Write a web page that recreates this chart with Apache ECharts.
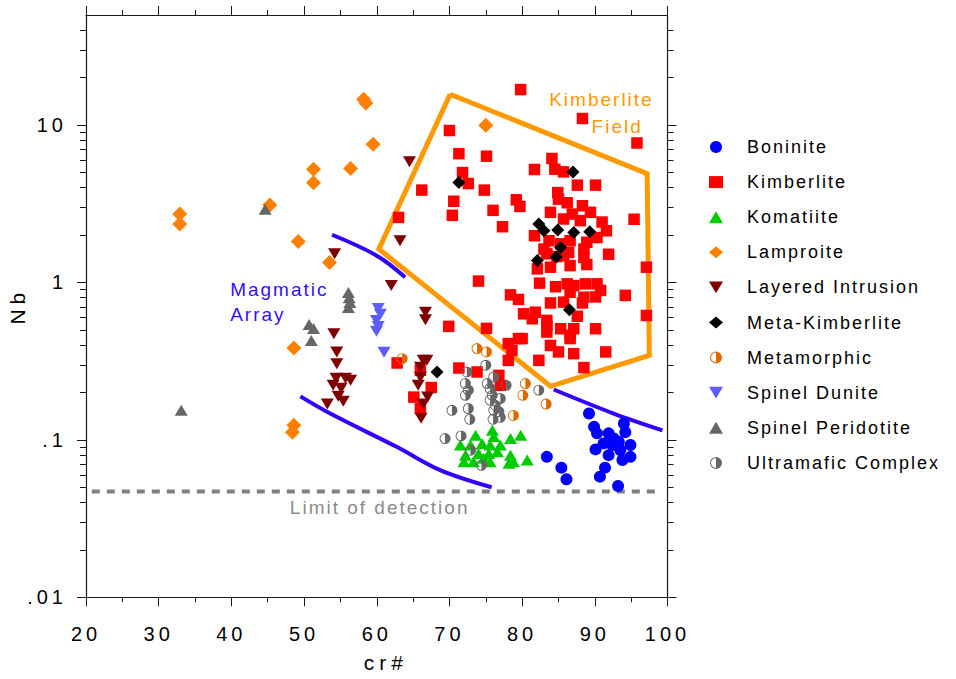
<!DOCTYPE html>
<html>
<head>
<meta charset="utf-8">
<script src="https://cdn.jsdelivr.net/npm/echarts@6.0.0/dist/echarts.min.js"></script>
<style>
  html, body { margin: 0; padding: 0; background: #ffffff; }
  #chart { width: 956px; height: 679px; letter-spacing: 2px; }
  /* wider tracking for tick labels (20px) and axis titles (21px) */
  #chart text[style*="20px"] { letter-spacing: 4px; }
  #chart text[style*="21px"] { letter-spacing: 5px; }
</style>
</head>
<body>
<div id="chart"></div>
<script>
// ---- data: [cr#, Nb] ----
const boninite = [
  [89.2, 0.147], [89.9, 0.121], [90.3, 0.110], [91.9, 0.110], [92.6, 0.102], [91.2, 0.095],
  [92.4, 0.0927], [93.3, 0.0973], [94.0, 0.127], [94.2, 0.112], [94.9, 0.0927], [90.1, 0.087],
  [91.9, 0.080], [93.5, 0.0861], [94.9, 0.078], [93.8, 0.0745], [83.4, 0.078], [85.4, 0.0666],
  [86.1, 0.0562], [91.4, 0.0666], [90.7, 0.0584], [93.2, 0.0509]
];
const kimberlite = [
  [79.8, 16.8], [88.3, 11.0], [95.8, 7.69], [70.0, 9.23], [71.3, 6.58], [75.1, 6.34], [84.1, 6.13],
  [81.7, 5.22], [84.5, 5.24], [85.7, 5.04], [71.8, 4.99], [72.6, 4.25], [87.6, 4.15], [90.1, 4.15],
  [66.2, 3.86], [74.8, 3.86], [84.9, 3.72], [70.6, 3.28], [79.2, 3.35], [79.7, 3.04], [86.2, 3.21],
  [88.3, 3.07], [76.0, 2.87], [70.4, 2.67], [63.0, 2.59], [83.9, 2.79], [89.4, 2.79], [95.4, 2.52],
  [91.0, 2.42], [77.3, 2.26], [81.7, 1.98], [91.6, 2.13], [83.0, 1.63], [86.6, 1.84], [88.5, 1.63],
  [91.9, 1.51], [85.7, 1.48], [97.1, 1.25], [82.1, 1.22], [83.9, 1.25], [86.6, 1.28], [88.9, 1.30],
  [74.0, 1.02], [78.4, 0.834], [79.5, 0.78], [82.4, 0.99], [84.6, 0.94], [87.1, 0.955], [90.8, 0.89],
  [94.2, 0.828], [83.9, 0.741], [85.7, 0.75], [88.3, 0.741], [90.1, 0.809], [80.2, 0.632],
  [81.4, 0.588], [83.4, 0.574], [87.6, 0.61], [97.1, 0.617], [69.9, 0.526], [75.1, 0.511],
  [90.1, 0.508], [86.9, 2.72], [85.7, 2.53], [88.0, 2.47], [83.7, 1.84], [90.3, 1.93], [88.9, 1.80],
  [86.4, 1.55], [85.3, 1.76], [83.4, 1.52], [85.0, 3.38], [84.8, 1.46], [88.5, 1.44], [86.2, 0.98],
  [88.7, 0.98], [90.3, 0.98], [86.6, 0.867], [88.5, 0.806], [81.8, 0.647], [85.3, 0.508],
  [87.1, 0.508], [83.4, 0.533], [83.4, 0.484], [86.6, 0.44], [83.9, 0.398], [85.0, 0.362],
  [87.1, 0.353], [91.5, 0.362], [82.3, 0.32], [88.5, 0.288], [80.0, 0.44], [78.1, 0.409],
  [78.1, 0.32], [86.6, 0.461], [62.8, 0.308], [66.0, 0.277], [71.3, 0.286], [73.8, 0.27],
  [67.5, 0.215], [65.1, 0.187], [66.0, 0.158], [76.8, 0.257], [77.0, 0.222], [78.6, 0.37],
  [79.5, 0.44]
];
const komatiite = [
  [73.6, 0.107], [75.9, 0.115], [76.1, 0.105], [78.4, 0.102], [79.8, 0.107], [71.5, 0.0927],
  [72.9, 0.0927], [74.5, 0.095], [75.6, 0.0927], [77.0, 0.0927], [72.2, 0.080], [74.0, 0.082],
  [75.4, 0.082], [76.6, 0.084], [72.0, 0.0727], [73.3, 0.0727], [75.6, 0.0727], [78.4, 0.080],
  [78.8, 0.0727], [80.7, 0.0745], [78.2, 0.071], [74.7, 0.0763]
];
const lamproite = [
  [32.9, 2.72], [32.9, 2.35], [45.3, 3.10], [51.3, 5.24], [51.3, 4.30], [49.2, 1.82], [53.5, 1.34],
  [58.2, 14.6], [58.5, 13.8], [59.5, 7.55], [56.4, 5.29], [75.0, 9.96], [48.6, 0.383],
  [48.6, 0.124], [48.4, 0.112]
];
const layeredIntrusion = [
  [64.5, 5.84], [63.2, 1.84], [54.2, 1.52], [62.0, 0.955], [66.7, 0.647], [66.7, 0.579],
  [54.1, 0.473], [54.5, 0.361], [54.5, 0.305], [54.4, 0.246], [55.7, 0.246], [56.4, 0.239],
  [54.0, 0.222], [55.1, 0.213], [54.7, 0.189], [55.4, 0.176], [53.2, 0.169], [66.4, 0.32],
  [66.9, 0.32], [66.0, 0.289], [66.0, 0.250], [65.7, 0.222], [67.0, 0.187], [66.4, 0.169],
  [66.1, 0.137]
];
const metaKimberlite = [
  [87.0, 5.04], [71.3, 4.32], [82.3, 2.35], [83.0, 2.13], [84.9, 2.15], [87.1, 2.08], [89.3, 2.10],
  [85.3, 1.67], [84.7, 1.45], [82.1, 1.38], [86.5, 0.67], [68.3, 0.270]
];
const metamorphic = [
  [73.8, 0.380], [75.1, 0.362], [80.45, 0.228], [80.1, 0.192], [83.3, 0.169], [78.8, 0.143],
  [63.5, 0.328]
];
const spinelDunite = [
  [60.2, 0.684], [60.5, 0.627], [59.96, 0.574], [60.2, 0.526], [59.96, 0.489], [61.0, 0.360]
];
const spinelPeridotite = [
  [33.1, 0.154], [44.65, 2.92], [56.1, 0.863], [56.2, 0.80], [56.3, 0.746], [56.1, 0.694],
  [50.7, 0.541], [51.3, 0.51], [51.0, 0.428]
];
const ultramaficComplex = [
  [75.0, 0.298], [72.4, 0.270], [76.1, 0.251], [77.8, 0.222], [72.2, 0.228], [72.6, 0.207],
  [72.2, 0.192], [75.2, 0.228], [75.6, 0.212], [75.9, 0.192], [77.0, 0.183], [75.6, 0.179],
  [76.3, 0.166], [72.6, 0.158], [70.35, 0.154], [76.1, 0.154], [76.8, 0.151], [72.8, 0.135],
  [76.0, 0.135], [77.0, 0.139], [69.4, 0.102], [71.6, 0.106], [72.9, 0.086], [74.4, 0.069],
  [82.3, 0.207]
];

// field outlines and reference lines
const kimberliteField = [[70.1, 15.7], [97.2, 4.9], [97.5, 0.344], [83.9, 0.219], [60.3, 1.63], [70.1, 15.7]];
const magmaticUpperLeft = [[53.85, 2.01], [60.0, 1.48], [63.9, 1.08]];
const magmaticUpperRight = [[84.35, 0.209], [92.6, 0.147], [99.3, 0.115]];
const magmaticLower = [[49.5, 0.189], [53.6, 0.147], [62.8, 0.090], [68.8, 0.064], [75.8, 0.050]];
const detectionLimit = [[20.8, 0.047], [99.2, 0.047]];

// axis ticks
const xMin = 20, xMax = 100, xStep = 10;
const yMin = 0.01, yMax = 50;
const yTickValues = [0.01, 0.1, 1, 10];
const yTickLabels = ['.01', '.1', '1', '10'];
const yMinorValues = [0.02, 0.03, 0.04, 0.05, 0.06, 0.07, 0.08, 0.09,
  0.2, 0.3, 0.4, 0.5, 0.6, 0.7, 0.8, 0.9, 2, 3, 4, 5, 6, 7, 8, 9, 20, 30, 40];

// text annotations: [label, cr#, Nb, side, colour]
const annotations = [
  ['Magmatic', 39.83, 0.90, 'right', '#3311ff'],
  ['Array', 39.83, 0.627, 'right', '#3311ff'],
  ['Kimberlite', 98.1, 14.6, 'left', '#ff9900'],
  ['Field', 96.6, 9.85, 'left', '#ff9900'],
  ['Limit of detection', 60.4, 0.037, 'inside', '#8a8a8a']
];

const FONT = 'Liberation Sans, Arial, Helvetica, sans-serif';
const AXIS_COLOR = '#1a1a1a';
const GRID = { left: 86, top: 15, right: 288.5, bottom: 81.7 };
const PLOT_WIDTH = 956 - GRID.left - GRID.right;
const DOWN_TRI = 'path://M0,0L12,0L6,10Z';
const HALF_DOT = 'path://M10,0A10,10,0,0,1,10,20A10,10,0,0,1,10,0Z' +
  'M10,1.7A8.3,8.3,0,0,0,10,18.3A8.3,8.3,0,0,0,10,1.7Z' +
  'M10,0A10,10,0,0,1,10,20Z';

function yLabel(v) {
  for (let i = 0; i < yTickValues.length; i++) {
    if (Math.abs(Math.log10(v) - Math.log10(yTickValues[i])) < 1e-6) return yTickLabels[i];
  }
  return '';
}

function pointSeries(name, data, symbol, size, color) {
  return {
    name, type: 'scatter', data, symbol, symbolSize: size,
    xAxisIndex: 0, yAxisIndex: 0, z: 5,
    itemStyle: { color, opacity: 1 },
    emphasis: { disabled: true }
  };
}

function lineSeries(data, color, width, extra) {
  return Object.assign({
    type: 'line', data, xAxisIndex: 0, yAxisIndex: 0, showSymbol: false, symbol: 'none',
    silent: true, z: 2,
    lineStyle: { color, width, cap: 'butt' },
    emphasis: { disabled: true }
  }, extra || {});
}

// empty series that bind the frame axes to the grid
function frameSeries(xi, yi) {
  return { type: 'scatter', data: [], xAxisIndex: xi, yAxisIndex: yi, silent: true };
}

const legendNames = ['Boninite', 'Kimberlite', 'Komatiite', 'Lamproite', 'Layered Intrusion',
  'Meta-Kimberlite', 'Metamorphic', 'Spinel Dunite', 'Spinel Peridotite', 'Ultramafic Complex'];

const chart = echarts.init(document.getElementById('chart'), null, { renderer: 'svg' });

const hiddenAxisBits = { axisLabel: { show: false }, splitLine: { show: false } };
const tickStyle = { lineStyle: { color: AXIS_COLOR } };

chart.setOption({
  animation: false,
  backgroundColor: '#ffffff',
  textStyle: { fontFamily: FONT },
  grid: Object.assign({ outerBoundsMode: 'none' }, GRID),
  legend: {
    orient: 'vertical', left: 704, top: 133, itemWidth: 14, itemHeight: 12, itemGap: 17.1,
    selectedMode: false,
    data: legendNames,
    textStyle: { fontSize: 18, color: '#000', fontFamily: FONT, padding: [0, 0, 0, 19] }
  },
  xAxis: [
    {
      type: 'value', position: 'bottom', min: xMin, max: xMax, interval: xStep,
      name: 'cr#', nameLocation: 'middle', nameGap: 55,
      nameTextStyle: { fontSize: 21, color: '#000', fontFamily: FONT, padding: [0, 0, 0, 18] },
      axisLine: { show: true, onZero: false, lineStyle: { color: AXIS_COLOR, width: 1.2 } },
      axisTick: Object.assign({ show: true, inside: false, length: 9 }, tickStyle),
      minorTick: Object.assign({ show: true, splitNumber: 2, length: 5 }, tickStyle),
      axisLabel: { fontSize: 20, color: '#000', margin: 27, fontFamily: FONT },
      splitLine: { show: false }
    },
    Object.assign({
      type: 'value', position: 'top', min: xMin, max: xMax, interval: xStep,
      axisLine: { show: true, onZero: false, lineStyle: { color: AXIS_COLOR, width: 1.2 } },
      axisTick: Object.assign({ show: true, inside: false, length: 9 }, tickStyle),
      minorTick: Object.assign({ show: true, splitNumber: 2, length: 5 }, tickStyle)
    }, hiddenAxisBits)
  ],
  yAxis: [
    {
      type: 'log', logBase: 10, position: 'left', min: yMin, max: yMax,
      name: 'Nb', nameLocation: 'middle', nameGap: 58,
      nameTextStyle: { fontSize: 21, color: '#000', fontFamily: FONT },
      axisLine: { show: true, onZero: false, lineStyle: { color: AXIS_COLOR, width: 1.2 } },
      axisTick: Object.assign({ show: true, inside: false, length: 6,
        customValues: yTickValues.concat(yMinorValues) }, tickStyle),
      axisLabel: { fontSize: 20, color: '#000', margin: 19, fontFamily: FONT, customValues: yTickValues, formatter: yLabel },
      splitLine: { show: false }
    },
    // long decade ticks on the left edge: a right-side axis shifted across the plot, ticks turned inward
    Object.assign({
      type: 'log', logBase: 10, position: 'right', offset: -PLOT_WIDTH, min: yMin, max: yMax,
      axisLine: { show: false, onZero: false },
      axisTick: Object.assign({ show: true, inside: true, length: 9, customValues: yTickValues }, tickStyle)
    }, hiddenAxisBits),
    Object.assign({
      type: 'log', logBase: 10, position: 'right', min: yMin, max: yMax,
      axisLine: { show: true, onZero: false, lineStyle: { color: AXIS_COLOR, width: 1.2 } },
      axisTick: Object.assign({ show: true, inside: false, length: 9, customValues: yTickValues }, tickStyle)
    }, hiddenAxisBits),
    Object.assign({
      type: 'log', logBase: 10, position: 'right', min: yMin, max: yMax,
      axisLine: { show: false, onZero: false },
      axisTick: Object.assign({ show: true, inside: false, length: 6, customValues: yMinorValues }, tickStyle)
    }, hiddenAxisBits)
  ],
  series: [
    lineSeries(detectionLimit, '#808080', 4, { lineStyle: { color: '#808080', width: 4, type: [8, 7], cap: 'butt' } }),
    lineSeries(magmaticLower, '#3300ff', 4, { smooth: 0.35 }),
    lineSeries(magmaticUpperLeft, '#3300ff', 4, { smooth: 0.35 }),
    lineSeries(magmaticUpperRight, '#3300ff', 4, { smooth: 0.35 }),
    lineSeries(kimberliteField, '#ff9900', 5, { z: 3, lineStyle: { color: '#ff9900', width: 5, join: 'miter' } }),
    pointSeries('Boninite', boninite, 'circle', 12, '#0000ff'),
    pointSeries('Kimberlite', kimberlite, 'rect', 11.5, '#ff0000'),
    pointSeries('Komatiite', komatiite, 'triangle', [13, 11], '#00cc00'),
    pointSeries('Lamproite', lamproite, 'diamond', [15, 15], '#ff8000'),
    pointSeries('Layered Intrusion', layeredIntrusion, DOWN_TRI, [13, 11], '#7f0000'),
    pointSeries('Meta-Kimberlite', metaKimberlite, 'diamond', [13, 13], '#000000'),
    pointSeries('Metamorphic', metamorphic, HALF_DOT, 11, '#dd6a00'),
    pointSeries('Spinel Dunite', spinelDunite, DOWN_TRI, [13, 11], '#5c5cff'),
    pointSeries('Spinel Peridotite', spinelPeridotite, 'triangle', [13, 11], '#666666'),
    pointSeries('Ultramafic Complex', ultramaficComplex, HALF_DOT, 11, '#666666'),
    frameSeries(1, 1), frameSeries(1, 2), frameSeries(1, 3),
    {
      type: 'scatter', xAxisIndex: 0, yAxisIndex: 0, silent: true, z: 6,
      symbol: 'circle', symbolSize: 0.01,
      data: annotations.map(a => ({
        value: [a[1], a[2]],
        itemStyle: { color: a[4] },
        label: {
          show: true, formatter: a[0], position: a[3], distance: 0,
          color: a[4], fontSize: 19, fontFamily: FONT, textBorderWidth: 0, opacity: 1
        }
      }))
    }
  ]
});
</script>
</body>
</html>
